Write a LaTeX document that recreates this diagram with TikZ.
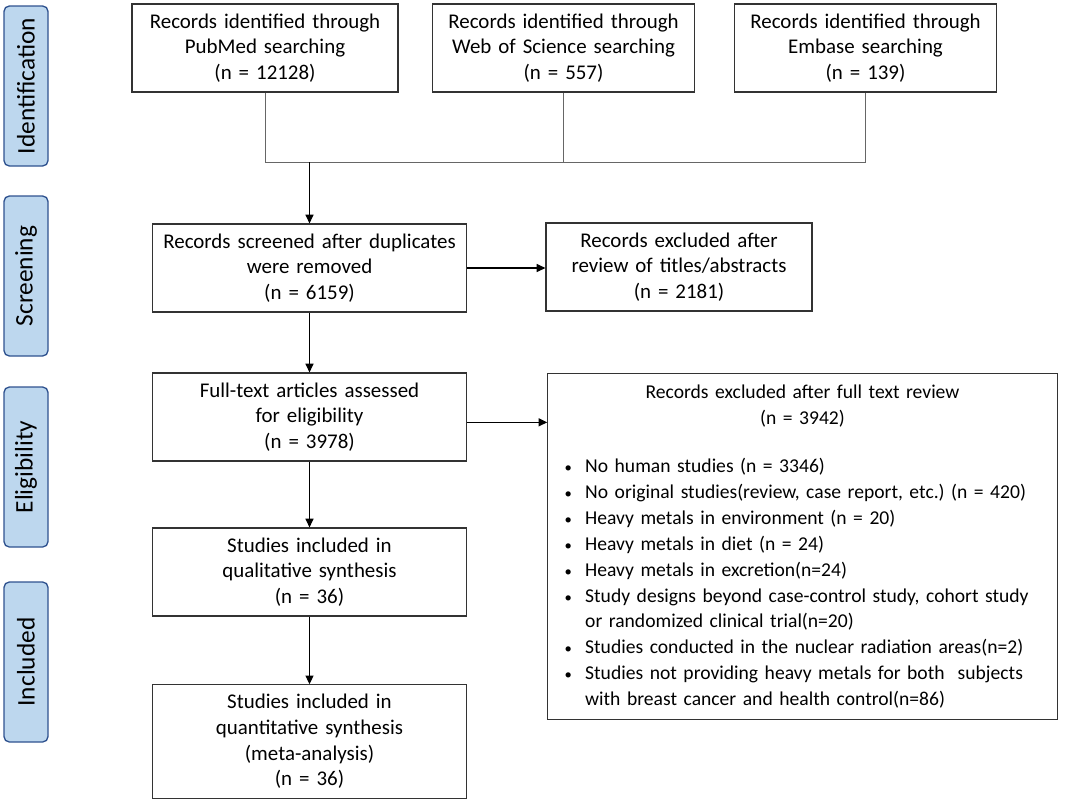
\documentclass[tikz,border=0pt]{standalone}
\usepackage{fontspec}
\setmainfont{Carlito}
\usepackage{enumitem}
\usetikzlibrary{arrows.meta}
\definecolor{tabfill}{HTML}{BDD7EE}
\definecolor{tabedge}{HTML}{2F528F}
\frenchspacing

\begin{document}
\begin{tikzpicture}[x=0.75pt, y=-0.75pt,
	box/.style = {draw=black!80, line width=0.9pt, rectangle, align=center, inner sep=0pt, minimum height=66pt, font=\fontsize{15.7}{19.2}\selectfont},
	phase/.style = {draw=tabedge, fill=tabfill, line width=1pt, rounded corners=4pt, rotate=90, minimum width=120pt, minimum height=33pt, inner sep=0pt, font=\fontsize{19}{22}\selectfont},
	link/.style = {draw=black!60, line width=0.6pt},
	arr/.style = {draw=black, line width=0.9pt, -{Triangle[length=6.5pt,width=6pt]}}]
	\useasboundingbox (0,0) rectangle (1084,803);
	% phase tabs
	\node[phase] (ident) at (26,86) {Identification};
	\node[phase] (screen) at (26,276) {Screening};
	\node[phase] (elig) at (26,467) {Eligibility};
	\node[phase] (incl) at (26,662) {Included};
	% boxes
	\node[box, minimum width=199.5pt, text width=192pt] (pubmed) at (265,48) {Records identified through\\PubMed searching\\(n = 12128)};
	\node[box, minimum width=196pt, text width=190pt] (wos) at (563.5,48) {Records identified through\\Web of Science searching\\(n = 557)};
	\node[box, minimum width=196pt, text width=190pt] (embase) at (865.5,48) {Records identified through\\Embase searching\\(n = 139)};
	\node[box, minimum width=236pt, text width=228pt] (screened) at (309.5,268) {Records screened after duplicates\\were removed\\(n = 6159)};
	\node[box, minimum width=199.5pt, text width=192pt] (exclA) at (679,267) {Records excluded after\\review of titles/abstracts\\(n = 2181)};
	\node[box, minimum width=236pt, text width=228pt] (fulltext) at (309.5,417) {Full-text articles assessed\\for eligibility\\(n = 3978)};
	\node[box, minimum width=236pt, text width=228pt] (qual) at (309.5,572) {Studies included in\\qualitative synthesis\\(n = 36)};
	\node[box, minimum width=236pt, minimum height=85pt, text width=228pt] (quant) at (309.5,741.5) {Studies included in\\quantitative synthesis\\(meta-analysis)\\(n = 36)};
	\node[box, minimum width=382pt, minimum height=259pt, text width=382pt, align=left, font=\fontsize{14.7}{19.4}\selectfont] (exclB) at (802.5,546.5) {%
		{\centering Records excluded after full text review\\(n = 3942)\par}
		\vspace{17pt}
		\begin{itemize}[leftmargin=28pt, rightmargin=-20pt, labelsep=10pt, itemsep=0pt, parsep=0pt, topsep=0pt, partopsep=0pt, label={\fontsize{11}{11}\selectfont\textbullet}]
			\item No human studies (n = 3346)
			\item No original studies(review, case report, etc.) (n = 420)
			\item Heavy metals in environment (n = 20)
			\item Heavy metals in diet (n = 24)
			\item Heavy metals in excretion(n=24)
			\item Study designs beyond case-control study, cohort study\newline or randomized clinical trial(n=20)
			\item Studies conducted in the nuclear radiation areas(n=2)
			\item Studies not providing heavy metals for both\ \ subjects\newline with breast cancer and health control(n=86)
		\end{itemize}};
	% joining the three searches
	\coordinate (joinL) at (pubmed.south |- 0,162);
	\coordinate (joinR) at (embase.south |- joinL);
	\draw[link] (pubmed.south) -- (joinL) -- (joinR) -- (embase.south);
	\draw[link] (wos.south) -- (wos.south |- joinL);
	% arrows
	\draw[arr] (screened.north |- joinL) -- (screened.north);
	\draw[arr] (screened.east) -- (screened.east -| exclA.west);
	\draw[arr] (screened) -- (fulltext);
	\draw[arr] ([yshift=-4pt]fulltext.east) -- ([yshift=-4pt]fulltext.east -| exclB.west);
	\draw[arr] (fulltext) -- (qual);
	\draw[arr] (qual) -- (quant);
\end{tikzpicture}
\end{document}
